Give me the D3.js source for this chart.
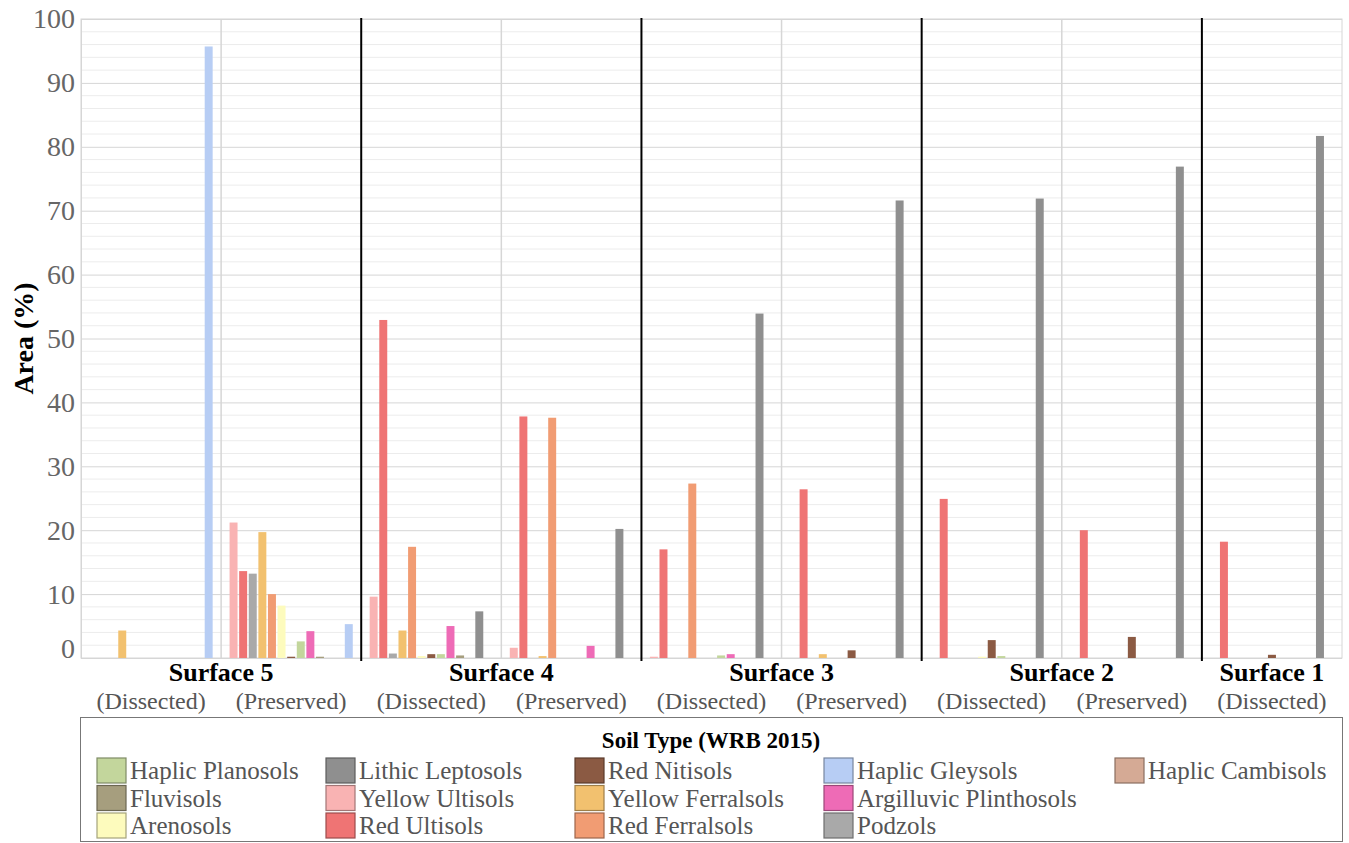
<!DOCTYPE html>
<html lang="en">
<head>
	<meta charset="utf-8">
	<title>Soil type area by surface</title>
	<script src='https://d3js.org/d3.v7.min.js'></script>
	<style>
		body { margin: 0; background: #fff; }
		text { font-family: "Liberation Serif", "DejaVu Serif", "Times New Roman", serif; }
	</style>
</head>
<body>
	<div id="chart"></div>
	<script>
		// groups along the x axis (surface + dissected/preserved)
		const groupIds = ["S5D", "S5P", "S4D", "S4P", "S3D", "S3P", "S2D", "S2P", "S1D"];
		const groupSub = ["(Dissected)", "(Preserved)", "(Dissected)", "(Preserved)", "(Dissected)", "(Preserved)", "(Dissected)", "(Preserved)", "(Dissected)"];
		const surfaces = ["Surface 5", "Surface 4", "Surface 3", "Surface 2", "Surface 1"];
		const surfaceGroups = [["S5D", "S5P"], ["S4D", "S4P"], ["S3D", "S3P"], ["S2D", "S2P"], ["S1D"]];

		// soil types in bar order inside each group
		const soilTypes = ["Yellow Ultisols", "Red Ultisols", "Podzols", "Yellow Ferralsols", "Red Ferralsols",
			"Arenosols", "Red Nitisols", "Haplic Planosols", "Argilluvic Plinthosols", "Fluvisols",
			"Haplic Cambisols", "Lithic Leptosols", "Haplic Gleysols"];
		const soilColors = ["#f9b3b3", "#ef7474", "#a9a9a9", "#f2c16f", "#f19c73",
			"#fdfbbd", "#8b5a43", "#c3d69c", "#ee6bb6", "#a69e7e",
			"#d5aa95", "#8f8f8f", "#b7cdf4"];

		// area (%) per soil type, one value per group
		const yellowUltisols = [0, 21.2, 9.6, 1.6, 0.2, 0, 0, 0, 0];
		const redUltisols = [0, 13.6, 52.9, 37.8, 17.0, 26.4, 24.9, 20.0, 18.2];
		const podzols = [0, 13.2, 0.7, 0, 0, 0, 0, 0, 0];
		const yellowFerralsols = [4.3, 19.7, 4.3, 0.3, 0, 0.6, 0, 0, 0];
		const redFerralsols = [0, 10.0, 17.4, 37.6, 27.3, 0, 0, 0, 0];
		const arenosols = [0, 8.2, 0.3, 0, 0, 0, 0.2, 0, 0];
		const redNitisols = [0, 0.2, 0.6, 0, 0, 1.2, 2.8, 3.3, 0.5];
		const haplicPlanosols = [0, 2.6, 0.6, 0, 0.4, 0, 0.3, 0, 0];
		const argilluvicPlinthosols = [0, 4.2, 5.0, 1.9, 0.6, 0, 0, 0, 0];
		const fluvisols = [0, 0.2, 0.4, 0, 0, 0, 0, 0, 0];
		const haplicCambisols = [0, 0, 0, 0, 0, 0, 0, 0, 0];
		const lithicLeptosols = [0, 0, 7.3, 20.2, 53.9, 71.6, 71.9, 76.9, 81.7];
		const haplicGleysols = [95.7, 5.3, 0, 0, 0, 0, 0, 0, 0];

		const seriesValues = [yellowUltisols, redUltisols, podzols, yellowFerralsols, redFerralsols,
			arenosols, redNitisols, haplicPlanosols, argilluvicPlinthosols, fluvisols,
			haplicCambisols, lithicLeptosols, haplicGleysols];

		const yTicks = [0, 10, 20, 30, 40, 50, 60, 70, 80, 90, 100];

		// legend columns, as shown in the figure
		const legendColumns = [
			["Haplic Planosols", "Fluvisols", "Arenosols"],
			["Lithic Leptosols", "Yellow Ultisols", "Red Ultisols"],
			["Red Nitisols", "Yellow Ferralsols", "Red Ferralsols"],
			["Haplic Gleysols", "Argilluvic Plinthosols", "Podzols"],
			["Haplic Cambisols"]
		];

		const width = 1349;
		const height = 843;
		const plotLeft = 81, plotRight = 1342, plotTop = 19, plotBottom = 658;

		var svg = d3.select("#chart")
					.append("svg")
					.attr("width", width)
					.attr("height", height);

		let x0 = d3.scaleBand()
					.domain(groupIds)
					.range([plotLeft, plotRight]);
		let x1 = d3.scaleBand()
					.domain(soilTypes)
					.range([0, x0.bandwidth()])
					.paddingInner(0.17)
					.paddingOuter(0.88);
		let y = d3.scaleLinear()
					.domain([0, 100])
					.range([plotBottom, plotTop]);
		let color = d3.scaleOrdinal().domain(soilTypes).range(soilColors);

		// minor gridlines every 2 %
		svg.append("g")
			.selectAll("line")
			.data(d3.range(0, 101, 2).filter(v => v % 10 !== 0))
			.enter().append("line")
			.attr("x1", plotLeft).attr("x2", plotRight)
			.attr("y1", d => y(d)).attr("y2", d => y(d))
			.attr("stroke", "#ececec").attr("stroke-width", 1);

		let yAxis = d3.axisLeft(y).tickValues(yTicks).tickSize(-(plotRight - plotLeft)).tickPadding(6);
		let yAxisG = svg.append("g")
			.attr("transform", "translate(" + plotLeft + ",0)")
			.call(yAxis);
		yAxisG.select(".domain").attr("stroke", "#d6d6d6");
		yAxisG.selectAll(".tick line").attr("stroke", "#d6d6d6");
		yAxisG.selectAll(".tick text")
			.attr("font-family", "Liberation Serif")
			.attr("font-size", 28)
			.attr("fill", "#666")
			.attr("dy", d => d === 0 ? "-0.02em" : "0.32em");

		// plot border
		svg.append("rect")
			.attr("x", plotLeft).attr("y", plotTop)
			.attr("width", plotRight - plotLeft).attr("height", plotBottom - plotTop)
			.attr("fill", "none").attr("stroke", "#d6d6d6");

		// light separators between dissected and preserved
		svg.append("g")
			.selectAll("line")
			.data(["S5P", "S4P", "S3P", "S2P"])
			.enter().append("line")
			.attr("x1", d => x0(d)).attr("x2", d => x0(d))
			.attr("y1", plotTop).attr("y2", plotBottom)
			.attr("stroke", "#d6d6d6").attr("stroke-width", 1.5);

		// bars
		let group = svg.selectAll("g.grp")
			.data(groupIds)
			.enter().append("g")
			.attr("class", "grp")
			.attr("transform", d => "translate(" + x0(d) + ",0)");
		group.selectAll("rect")
			.data((g, gi) => soilTypes.map((s, si) => ({ soil: s, value: seriesValues[si][gi] })))
			.enter().append("rect")
			.attr("x", d => x1(d.soil))
			.attr("y", d => y(d.value))
			.attr("width", x1.bandwidth())
			.attr("height", d => y(0) - y(d.value))
			.attr("fill", d => color(d.soil));

		// black separators between surfaces
		svg.append("g")
			.selectAll("line")
			.data(["S4D", "S3D", "S2D", "S1D"])
			.enter().append("line")
			.attr("x1", d => x0(d)).attr("x2", d => x0(d))
			.attr("y1", plotTop - 1).attr("y2", plotBottom + 3)
			.attr("stroke", "#000").attr("stroke-width", 2);

		// x labels
		svg.append("g")
			.selectAll("text")
			.data(surfaces)
			.enter().append("text")
			.attr("x", (d, i) => {
				let g = surfaceGroups[i];
				return g.length === 2 ? x0(g[1]) : x0(g[0]) + x0.bandwidth() / 2;
			})
			.attr("y", 681)
			.attr("text-anchor", "middle")
			.attr("font-size", 26)
			.attr("font-weight", "bold")
			.attr("fill", "#000")
			.text(d => d);
		svg.append("g")
			.selectAll("text")
			.data(groupIds)
			.enter().append("text")
			.attr("x", d => x0(d) + x0.bandwidth() / 2)
			.attr("y", 709)
			.attr("text-anchor", "middle")
			.attr("font-size", 24)
			.attr("fill", "#555")
			.text((d, i) => groupSub[i]);

		// y title
		svg.append("text")
			.attr("transform", "translate(33," + ((plotTop + plotBottom) / 2) + ") rotate(-90)")
			.attr("text-anchor", "middle")
			.attr("font-size", 28)
			.attr("font-weight", "bold")
			.attr("fill", "#000")
			.text("Area (%)");

		// legend
		let legend = svg.append("g");
		legend.append("rect")
			.attr("x", 80.5).attr("y", 717.5)
			.attr("width", 1262).attr("height", 124)
			.attr("fill", "#fff").attr("stroke", "#777");
		legend.append("text")
			.attr("x", 711).attr("y", 748)
			.attr("text-anchor", "middle")
			.attr("font-size", 23)
			.attr("font-weight", "bold")
			.attr("fill", "#000")
			.text("Soil Type (WRB 2015)");
		const legendX = [97, 326, 575, 824, 1115];
		legendColumns.forEach(function(col, ci) {
			col.forEach(function(name, ri) {
				let item = legend.append("g")
					.attr("transform", "translate(" + legendX[ci] + "," + (758 + ri * 27.5) + ")");
				item.append("rect")
					.attr("width", 29).attr("height", 25)
					.attr("fill", color(name))
					.attr("stroke", d3.color(color(name)).darker(1.2))
					.attr("stroke-width", 1.2);
				item.append("text")
					.attr("x", 33).attr("y", 21)
					.attr("font-size", 25)
					.attr("fill", "#555")
					.text(name);
			});
		});
	</script>
</body>
</html>
